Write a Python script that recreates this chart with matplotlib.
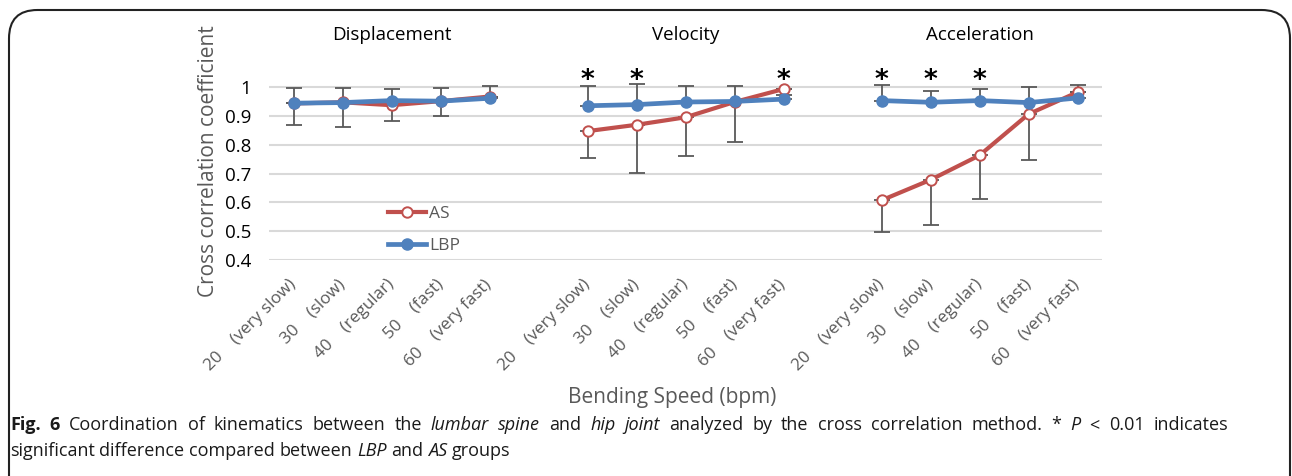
import numpy as np
import matplotlib
matplotlib.use("Agg")
import matplotlib.pyplot as plt
from matplotlib.patches import FancyBboxPatch

plt.rcParams['font.family'] = ['Open Sans', 'DejaVu Sans']

groups = ['Displacement', 'Velocity', 'Acceleration']
speeds = ['20    (very slow)', '30    (slow)', '40    (regular)', '50    (fast)', '60    (very fast)']

# mean cross correlation coefficient, per group
as_mean = [[0.943, 0.947, 0.937, 0.951, 0.967],
           [0.847, 0.869, 0.895, 0.948, 0.993],
           [0.607, 0.678, 0.763, 0.906, 0.982]]
lbp_mean = [[0.944, 0.946, 0.953, 0.951, 0.961],
            [0.935, 0.939, 0.948, 0.950, 0.958],
            [0.953, 0.947, 0.953, 0.946, 0.962]]
# AS drawn with lower error bars, LBP with upper ones
as_err = [[0.075, 0.087, 0.055, 0.051, 0.0],
          [0.092, 0.166, 0.133, 0.140, 0.0],
          [0.109, 0.158, 0.150, 0.159, 0.0]]
lbp_err = [[0.051, 0.050, 0.040, 0.045, 0.044],
           [0.070, 0.073, 0.054, 0.052, 0.015],
           [0.053, 0.040, 0.041, 0.054, 0.044]]
# significant points (P < 0.01)
signif = [[], [0, 1, 4], [0, 1, 2]]

# caption words: (word, style)
cap_line1 = [('Fig.', 'b'), ('6', 'b'), ('Coordination', 'n'), ('of', 'n'), ('kinematics', 'n'),
             ('between', 'n'), ('the', 'n'), ('lumbar', 'i'), ('spine', 'i'), ('and', 'n'),
             ('hip', 'i'), ('joint', 'i'), ('analyzed', 'n'), ('by', 'n'), ('the', 'n'),
             ('cross', 'n'), ('correlation', 'n'), ('method.', 'n'), ('*', 'n'), ('P', 'i'),
             ('<', 'n'), ('0.01', 'n'), ('indicates', 'n')]
cap_line2 = [('significant', 'n'), ('difference', 'n'), ('compared', 'n'), ('between', 'n'),
             ('LBP', 'i'), ('and', 'n'), ('AS', 'i'), ('groups', 'n')]

red = '#C0504D'
blue = '#4F81BD'
grey = '#595959'

fig = plt.figure(figsize=(12.92, 4.76), dpi=100)
ax = fig.add_axes([269/1292, 1-260/476, 833/1292, (260-58.2)/476])

xs_all = []
labels_all = []
for g in range(3):
    xs = [g*6 + i for i in range(5)]
    xs_all += xs
    labels_all += speeds
    zero = [0]*5
    ax.errorbar(xs, as_mean[g], yerr=[as_err[g], zero], fmt='none', ecolor=grey,
                elinewidth=1.3, capsize=5.5, capthick=1.3, zorder=2)
    ax.errorbar(xs, lbp_mean[g], yerr=[zero, lbp_err[g]], fmt='none', ecolor=grey,
                elinewidth=1.3, capsize=5.5, capthick=1.3, zorder=2)
    ax.plot(xs, as_mean[g], color=red, lw=3.0, marker='o', ms=7.5, mfc='white',
            mec=red, mew=1.4, zorder=3, label='AS' if g == 0 else None)
    ax.plot(xs, lbp_mean[g], color=blue, lw=3.4, marker='o', ms=8, mfc=blue,
            mec=blue, zorder=4, label='LBP' if g == 0 else None)
    ax.text(g*6 + 2, 1.115, groups[g], transform=ax.get_xaxis_transform(),
            ha='center', va='center', fontsize=13.5, color='black')
    for i in signif[g]:
        ax.text(g*6 + i, 1.022, '*', ha='center', va='center', fontsize=19,
                fontweight='bold', family='DejaVu Sans', color='black')

ax.set_xlim(-0.5, 16.5)
ax.set_ylim(0.4, 1.1)
ax.set_yticks([0.4, 0.5, 0.6, 0.7, 0.8, 0.9, 1.0])
ax.set_yticklabels(['0.4', '0.5', '0.6', '0.7', '0.8', '0.9', '1'])
ax.set_xticks(xs_all)
ax.set_xticklabels(labels_all, rotation=45, ha='right', va='center',
                   rotation_mode='anchor', fontsize=12.3, color=grey)
ax.tick_params(axis='x', length=0, pad=16)
ax.tick_params(axis='y', length=0, pad=13, labelsize=13.5, labelcolor='black')
for s in ax.spines.values():
    s.set_visible(False)
ax.grid(axis='y', color='#D9D9D9', lw=1.5)
ax.set_axisbelow(True)

leg = ax.legend(loc='upper left', bbox_to_anchor=(0.132, 0.31), frameon=False,
                handlelength=2.2, labelspacing=0.9, fontsize=12.5, borderpad=0,
                handletextpad=0.2, labelcolor=grey)

fig.text(208/1292, 1-161/476, 'Cross correlation coefficient', rotation=90,
         ha='center', va='center', fontsize=15, color=grey)
fig.text(672/1292, 1-397/476, 'Bending Speed (bpm)', ha='center', va='center',
         fontsize=15, color=grey)

# caption, first line justified like the journal text
renderer = fig.canvas.get_renderer()
styles = {'n': dict(), 'b': dict(fontweight='bold'), 'i': dict(style='italic')}
cap_size = 13


def word_width(w, st):
    t = fig.text(0, 0, w + '|', fontsize=cap_size, **styles[st])
    bar = fig.text(0, 0, '|', fontsize=cap_size, **styles[st])
    wd = t.get_window_extent(renderer).width - bar.get_window_extent(renderer).width
    t.remove()
    bar.remove()
    return wd


def draw_line(words, x0, y0, x1=None):
    widths = [word_width(w, st) for w, st in words]
    if x1 is None:
        gap = word_width('a a', 'n') - word_width('aa', 'n')
    else:
        gap = (x1 - x0 - sum(widths)) / (len(words) - 1)
    x = x0
    for (w, st), wd in zip(words, widths):
        fig.text(x/1292, 1-y0/476, w, ha='left', va='baseline', fontsize=cap_size,
                 color='#1a1a1a', **styles[st])
        x += wd + gap


draw_line(cap_line1, 10, 430, 1228)
draw_line(cap_line2, 10, 456)

frame = FancyBboxPatch((9/1292, -0.1), 1281/1292, 1.1 - 10/476,
                       boxstyle='round,pad=0,rounding_size=0.022',
                       transform=fig.transFigure, fill=False, ec='#222222', lw=1.5,
                       mutation_aspect=1292/476)
fig.patches.append(frame)

fig.savefig('out.png', dpi=100)
